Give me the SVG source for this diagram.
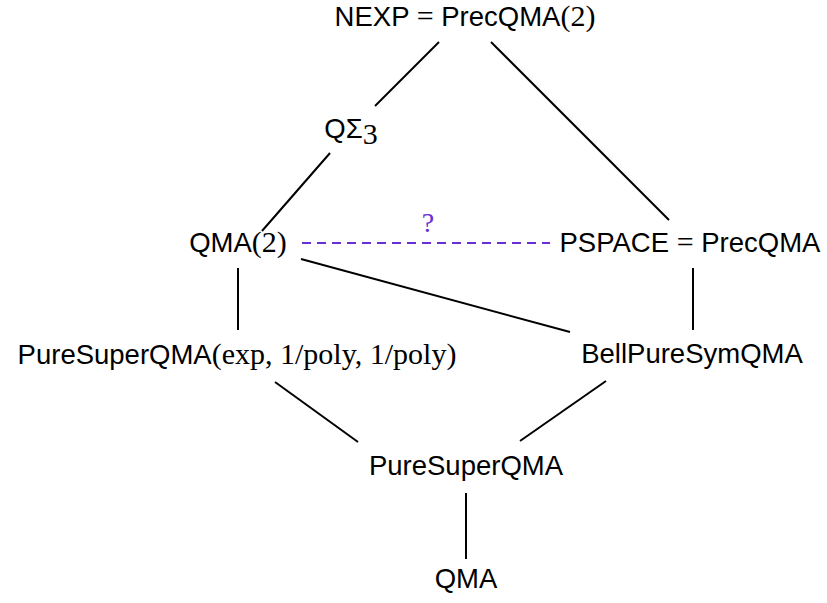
<svg xmlns="http://www.w3.org/2000/svg" width="827" height="603" viewBox="0 0 827 603">
<style>
.t{font-family:"Liberation Sans","DejaVu Sans",sans-serif;font-size:27.5px;fill:#000;text-anchor:middle}
.m{font-family:"Liberation Serif","DejaVu Serif",serif;font-size:30px}
.e{stroke:#000;stroke-width:2;fill:none}
.d{stroke:#6a2fd3;stroke-width:2;stroke-dasharray:9,6;fill:none}
.q{font-family:"Liberation Serif","DejaVu Serif",serif;font-size:28px;fill:#6a2fd3;text-anchor:middle}
</style>
<rect width="827" height="603" fill="#fff"/>
<g id="connectors">
<line class="e" x1="439" y1="42" x2="375" y2="106"/>
<line class="e" x1="491" y1="42" x2="669" y2="220"/>
<line class="e" x1="330" y1="153" x2="262" y2="231"/>
<line class="d" x1="302" y1="243" x2="550" y2="243"/>
<line class="e" x1="238" y1="268" x2="238" y2="330"/>
<line class="e" x1="301" y1="259" x2="570" y2="332"/>
<line class="e" x1="693" y1="268" x2="693" y2="330"/>
<line class="e" x1="275" y1="382" x2="358" y2="442"/>
<line class="e" x1="606" y1="381" x2="520" y2="441"/>
<line class="e" x1="466" y1="493" x2="466" y2="559"/>
<text class="q" x="428" y="232">?</text>
</g>
<g id="nexp"><text class="t" x="465" y="26">NEXP <tspan class="m" font-size="29">=</tspan> PrecQMA<tspan class="m" font-size="29">(2)</tspan></text></g>
<g id="qsigma3"><text class="t" x="351" y="138">QΣ<tspan class="m" font-size="21" dy="6">3</tspan></text></g>
<g id="qma2"><text class="t" x="238" y="252">QMA<tspan class="m">(2)</tspan></text></g>
<g id="pspace"><text class="t" x="690" y="252">PSPACE <tspan class="m">=</tspan> PrecQMA</text></g>
<g id="puresuperqma-exp"><text class="t" x="237" y="364">PureSuperQMA<tspan class="m">(exp, 1/poly, 1/poly)</tspan></text></g>
<g id="bellpuresymqma"><text class="t" x="692" y="363">BellPureSymQMA</text></g>
<g id="puresuperqma"><text class="t" x="466" y="475">PureSuperQMA</text></g>
<g id="qma"><text class="t" x="466" y="588">QMA</text></g>
</svg>
